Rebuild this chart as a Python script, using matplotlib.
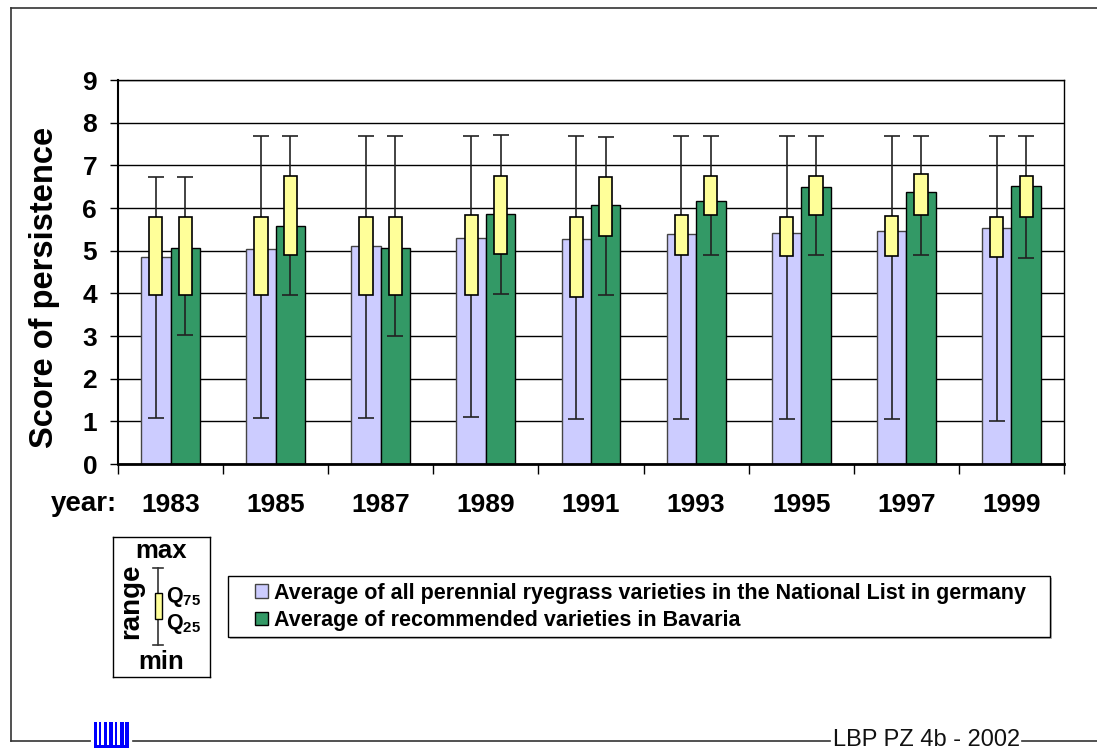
import matplotlib
matplotlib.use("Agg")
import matplotlib.pyplot as plt
from matplotlib.patches import Rectangle
import numpy as np

plt.rcParams['font.family'] = ['Liberation Sans', 'DejaVu Sans']
plt.rcParams['mathtext.fontset'] = 'custom'
plt.rcParams['mathtext.rm'] = 'Liberation Sans'
plt.rcParams['mathtext.bf'] = 'Liberation Sans:bold'

# data
years = ['1983', '1985', '1987', '1989', '1991', '1993', '1995', '1997', '1999']
national_avg = [4.84, 5.03, 5.10, 5.30, 5.27, 5.39, 5.42, 5.47, 5.54]
national_q25 = [3.95, 3.95, 3.95, 3.95, 3.92, 4.90, 4.88, 4.88, 4.85]
national_q75 = [5.78, 5.78, 5.80, 5.83, 5.80, 5.84, 5.80, 5.81, 5.78]
national_min = [1.07, 1.07, 1.07, 1.10, 1.05, 1.05, 1.05, 1.05, 1.00]
national_max = [6.72, 7.68, 7.68, 7.68, 7.69, 7.69, 7.68, 7.68, 7.68]

bavaria_avg = [5.07, 5.58, 5.07, 5.85, 6.07, 6.17, 6.50, 6.37, 6.52]
bavaria_q25 = [3.95, 4.90, 3.95, 4.93, 5.35, 5.83, 5.83, 5.83, 5.80]
bavaria_q75 = [5.80, 6.76, 5.78, 6.76, 6.73, 6.76, 6.76, 6.80, 6.76]
bavaria_min = [3.02, 3.95, 3.00, 3.98, 3.95, 4.90, 4.90, 4.90, 4.82]
bavaria_max = [6.72, 7.68, 7.68, 7.70, 7.67, 7.68, 7.68, 7.68, 7.68]

legend_labels = ['Average of all perennial ryegrass varieties in the National List in germany',
                 'Average of recommended varieties in Bavaria']

W, H = 1097, 749
fig = plt.figure(figsize=(W / 100, H / 100), dpi=100)

# frame/decoration overlay in pixel coordinates
bg = fig.add_axes([0, 0, 1, 1], zorder=-5)
bg.set_xlim(0, W)
bg.set_ylim(H, 0)
bg.axis('off')
frame_kw = dict(color='#333333', lw=1.2)
bg.plot([11, 11], [8, 741], **frame_kw)
bg.plot([11, W], [8, 8], **frame_kw)
bg.plot([11, 90], [741, 741], **frame_kw)
bg.plot([133, 830], [741, 741], **frame_kw)
bg.plot([1022, W], [741, 741], **frame_kw)
for x0, w in [(94, 3), (99, 1.5), (104, 3), (109, 4), (115, 2), (120, 4), (125, 4)]:
    bg.add_patch(Rectangle((x0, 722), w, 26, color='#0000ff', lw=0))
bg.add_patch(Rectangle((97, 745), 32, 3, color='#0000ff', lw=0))
bg.text(833, 740, 'LBP PZ 4b - 2002', fontsize=17, va='center', ha='left', color='#111111')
# legend frame (with a faint shadow)
bg.add_patch(Rectangle((230, 578), 822, 61, facecolor='#bbbbbb', edgecolor='none'))
bg.add_patch(Rectangle((228, 576), 822, 61, facecolor='white', edgecolor='black', lw=1))

# main chart
ax = fig.add_axes([118 / W, 1 - 464 / H, (1064 - 118) / W, (464 - 80) / H])
x = np.arange(len(years))
off = 0.14
bw = 0.28
boxw = 0.125

lav = '#ccccff'
green = '#339966'
yellow = '#ffff99'

b1 = ax.bar(x - off, national_avg, bw, color=lav, edgecolor='#444444', lw=1, zorder=2)
b2 = ax.bar(x + off, bavaria_avg, bw, color=green, edgecolor='black', lw=1, zorder=2)

for xs, lo, hi, q25, q75 in [(x - off, national_min, national_max, national_q25, national_q75),
                             (x + off, bavaria_min, bavaria_max, bavaria_q25, bavaria_q75)]:
    lo = np.array(lo)
    hi = np.array(hi)
    mid = (lo + hi) / 2
    ax.errorbar(xs, mid, yerr=[mid - lo, hi - mid], fmt='none', ecolor='#222222',
                elinewidth=1.2, capsize=5.5, capthick=1.2, zorder=3)
    ax.bar(xs, np.array(q75) - np.array(q25), boxw, bottom=q25, color=yellow,
           edgecolor='black', lw=1.2, zorder=4)

ax.set_xlim(-0.5, len(years) - 0.5)
ax.set_ylim(0, 9)
ax.set_yticks(range(0, 10))
ax.yaxis.grid(True, color='black', lw=1)
ax.set_axisbelow(True)
ax.tick_params(axis='y', direction='out', length=6, width=1, pad=9, labelsize=19)
for lab in ax.get_yticklabels():
    lab.set_fontweight('bold')

ax.set_xticks(x)
ax.set_xticklabels(years, fontsize=19, fontweight='bold')
ax.tick_params(axis='x', which='major', length=0, pad=21)
ax.set_xticks(np.arange(-0.5, len(years)), minor=True)
ax.tick_params(axis='x', which='minor', direction='out', length=7, width=1)

for s in ['top', 'right']:
    ax.spines[s].set_linewidth(1)
ax.spines['left'].set_linewidth(1.5)
ax.spines['bottom'].set_linewidth(2)

fig.text(45 / W, 1 - 287 / H, 'Score of persistence', rotation=90, fontsize=23.5,
         fontweight='bold', ha='center', va='center')
fig.text(117 / W, 1 - 504 / H, 'year:', fontsize=20, fontweight='bold', ha='right', va='center')

leg = fig.legend([b1, b2], legend_labels, loc='center left',
                 bbox_to_anchor=(255 / W, 1 - 607 / H), frameon=False,
                 prop={'weight': 'bold', 'size': 15.5},
                 handlelength=0.6, handleheight=0.6, handletextpad=0.3,
                 labelspacing=0.3, borderpad=0, borderaxespad=0)

# explanation box
kx = fig.add_axes([113 / W, 1 - 677 / H, 97 / W, 140 / H])
kx.set_xlim(113, 210)
kx.set_ylim(677, 537)
kx.set_xticks([])
kx.set_yticks([])
for s in kx.spines.values():
    s.set_linewidth(1)
kx.text(161, 551, 'max', fontsize=18.5, fontweight='bold', ha='center', va='center')
kx.text(161, 662, 'min', fontsize=18.5, fontweight='bold', ha='center', va='center')
kx.text(131, 601, 'range', fontsize=20, fontweight='bold', rotation=90, ha='center', va='center')
kx.plot([158, 158], [568, 645], color='#333333', lw=1.2)
kx.plot([153, 163], [568, 568], color='#333333', lw=1.2)
kx.plot([153, 163], [645, 645], color='#333333', lw=1.2)
kx.add_patch(Rectangle((154.5, 593), 7, 26, facecolor=yellow, edgecolor='black', lw=1, zorder=3))
kx.text(166, 597, r'$\mathbf{Q}_{\mathbf{75}}$', fontsize=15.5, ha='left', va='center')
kx.text(166, 624, r'$\mathbf{Q}_{\mathbf{25}}$', fontsize=15.5, ha='left', va='center')

fig.savefig('out.png', dpi=100)
